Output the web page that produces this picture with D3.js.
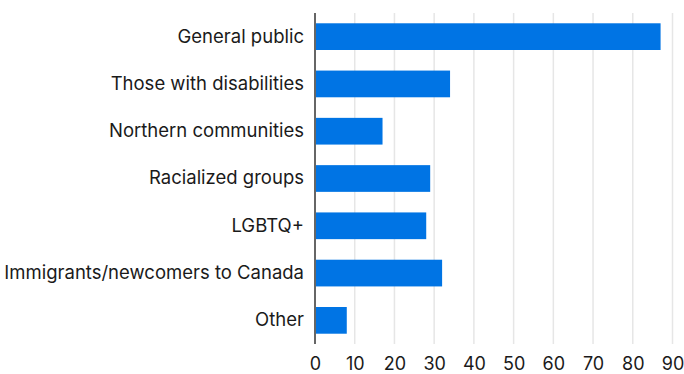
<!DOCTYPE html>
<html><head><meta charset="utf-8">
<script src="https://cdn.jsdelivr.net/npm/d3@7"></script>
<style>body{margin:0;background:#fff}svg{display:block}</style>
</head><body>
<svg id="c" width="684" height="374"></svg>
<script>
const categories = ["General public","Those with disabilities","Northern communities","Racialized groups","LGBTQ+","Immigrants/newcomers to Canada","Other"];
const values = [87, 34, 17, 29, 28, 32, 8];
const xTicks = [0,10,20,30,40,50,60,70,80,90];

(function(){
const svg = d3.select("#c");
const mLeft = 315, mRight = 672.5, mTop = 13, mBottom = 344;
const x = d3.scaleLinear().domain([0,90]).range([mLeft,mRight]);
const y = d3.scaleBand().domain(categories).range([mTop,mBottom]).paddingInner(0.435).paddingOuter(0.2175);
const font = "Inter, Liberation Sans, Arial, sans-serif";

svg.append("g").selectAll("line").data(xTicks.slice(1)).join("line")
  .attr("x1",d=>x(d)).attr("x2",d=>x(d)).attr("y1",mTop).attr("y2",mBottom)
  .attr("stroke","#e6e6e6").attr("stroke-width",1.5);

svg.append("g").selectAll("rect").data(values).join("rect")
  .attr("x",x(0)).attr("y",(d,i)=>y(categories[i]))
  .attr("width",d=>x(d)-x(0)).attr("height",y.bandwidth())
  .attr("fill","#0074e4");

svg.append("line").attr("x1",mLeft).attr("x2",mLeft).attr("y1",mTop).attr("y2",mBottom)
  .attr("stroke","#666").attr("stroke-width",2);

const xa = svg.append("g").attr("transform",`translate(0,${mBottom})`)
  .call(d3.axisBottom(x).tickValues(xTicks).tickSize(0).tickPadding(13));
xa.select(".domain").remove();
xa.selectAll("text").attr("font-family",font).attr("font-size",18).attr("fill","#1a1a1a");

const ya = svg.append("g").attr("transform",`translate(${mLeft},0)`)
  .call(d3.axisLeft(y).tickSize(0).tickPadding(11));
ya.select(".domain").remove();
ya.selectAll("text").attr("font-family",font).attr("font-size",18.5).attr("fill","#1a1a1a");
})();
</script>
</body></html>
